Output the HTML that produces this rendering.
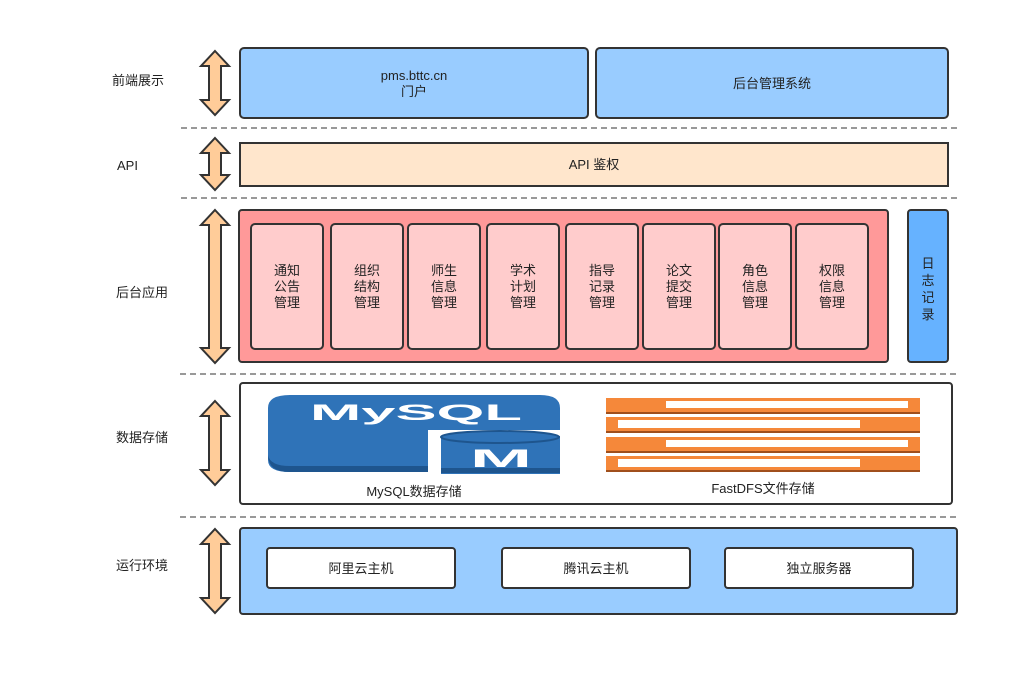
<!DOCTYPE html>
<html><head><meta charset="utf-8"><style>
body{margin:0;background:#fff}
svg{display:block}
text{font-family:"Liberation Sans","Noto Sans CJK SC",sans-serif;font-size:13px;fill:#222}
</style></head><body>
<svg width="1022" height="677" viewBox="0 0 1022 677">
<g fill="#ffcc99" stroke="#333" stroke-width="2" stroke-linejoin="miter">
<path d="M215,51 L229,66 L221,66 L221,100 L229,100 L215,115 L201,100 L209,100 L209,66 L201,66 Z"/>
<path d="M215,138 L229,153 L221,153 L221,175 L229,175 L215,190 L201,175 L209,175 L209,153 L201,153 Z"/>
<path d="M215,210 L229,225 L221,225 L221,348 L229,348 L215,363 L201,348 L209,348 L209,225 L201,225 Z"/>
<path d="M215,401 L229,416 L221,416 L221,470 L229,470 L215,485 L201,470 L209,470 L209,416 L201,416 Z"/>
<path d="M215,529 L229,544 L221,544 L221,598 L229,598 L215,613 L201,598 L209,598 L209,544 L201,544 Z"/>
</g>
<g stroke="#999" stroke-width="2" stroke-dasharray="6,4">
<line x1="181" y1="128" x2="958" y2="128"/>
<line x1="181" y1="198" x2="958" y2="198"/>
<line x1="180" y1="374" x2="958" y2="374"/>
<line x1="180" y1="517" x2="958" y2="517"/>
</g>
<text x="112" y="85">前端展示</text>
<text x="117" y="170">API</text>
<text x="116" y="297">后台应用</text>
<text x="116" y="442">数据存储</text>
<text x="116" y="570">运行环境</text>
<g stroke="#333" stroke-width="2">
<rect x="240" y="48" width="348" height="70" rx="4" fill="#99ccff"/>
<rect x="596" y="48" width="352" height="70" rx="4" fill="#99ccff"/>
<rect x="240" y="143" width="708" height="43" fill="#ffe6cc"/>
<rect x="239" y="210" width="649" height="152" rx="3" fill="#ff9999"/>
<rect x="908" y="210" width="40" height="152" rx="3" fill="#66b2ff"/>
<rect x="240" y="383" width="712" height="121" rx="3" fill="#fff"/>
<rect x="240" y="528" width="717" height="86" rx="3" fill="#99ccff"/>
<g fill="#fff">
<rect x="267" y="548" width="188" height="40" rx="3"/>
<rect x="502" y="548" width="188" height="40" rx="3"/>
<rect x="725" y="548" width="188" height="40" rx="3"/>
</g>
<g fill="#ffcccc">
<rect x="251" y="224" width="72" height="125" rx="4"/>
<rect x="331" y="224" width="72" height="125" rx="4"/>
<rect x="408" y="224" width="72" height="125" rx="4"/>
<rect x="487" y="224" width="72" height="125" rx="4"/>
<rect x="566" y="224" width="72" height="125" rx="4"/>
<rect x="643" y="224" width="72" height="125" rx="4"/>
<rect x="719" y="224" width="72" height="125" rx="4"/>
<rect x="796" y="224" width="72" height="125" rx="4"/>
</g>
</g>
<g text-anchor="middle">
<text x="414" y="80">pms.bttc.cn</text>
<text x="414" y="96">门户</text>
<text x="772" y="88">后台管理系统</text>
<text x="594" y="169">API 鉴权</text>
<text x="361" y="573">阿里云主机</text>
<text x="596" y="573">腾讯云主机</text>
<text x="819" y="573">独立服务器</text>
<text x="414" y="496">MySQL数据存储</text>
<text x="763" y="493">FastDFS文件存储</text>
<g>
<text x="287" y="275">通知</text><text x="287" y="291">公告</text><text x="287" y="307">管理</text>
<text x="367" y="275">组织</text><text x="367" y="291">结构</text><text x="367" y="307">管理</text>
<text x="444" y="275">师生</text><text x="444" y="291">信息</text><text x="444" y="307">管理</text>
<text x="523" y="275">学术</text><text x="523" y="291">计划</text><text x="523" y="307">管理</text>
<text x="602" y="275">指导</text><text x="602" y="291">记录</text><text x="602" y="307">管理</text>
<text x="679" y="275">论文</text><text x="679" y="291">提交</text><text x="679" y="307">管理</text>
<text x="755" y="275">角色</text><text x="755" y="291">信息</text><text x="755" y="307">管理</text>
<text x="832" y="275">权限</text><text x="832" y="291">信息</text><text x="832" y="307">管理</text>
<text x="928" y="268">日</text><text x="928" y="285">志</text><text x="928" y="302">记</text><text x="928" y="319">录</text>
</g>
</g>
<!-- MySQL logo -->
<path d="M290,395 L540,395 Q560,395 560,408 L560,430 L428,430 L428,472 L290,472 Q268,472 268,460 L268,408 Q268,395 290,395 Z" fill="#2f73b8"/>
<path d="M268,455 Q268,472 290,472 L428,472 L428,466 L290,466 Q270,466 268,455 Z" fill="#1e558e"/>
<rect x="441" y="436" width="119" height="38" fill="#2f73b8"/>
<ellipse cx="500" cy="437" rx="59" ry="6" fill="#2f73b8" stroke="#1e558e" stroke-width="2"/>
<rect x="441" y="468" width="119" height="5" fill="#1e558e"/>
<text x="310" y="420" textLength="212" lengthAdjust="spacingAndGlyphs" style="font-size:22px;font-weight:bold;fill:#fff">MySQL</text>
<text x="470" y="467" textLength="62" lengthAdjust="spacingAndGlyphs" style="font-size:25px;font-weight:bold;fill:#fff">M</text>
<!-- FastDFS -->
<g fill="#f5883a">
<rect x="606" y="398" width="314" height="16"/><rect x="606" y="417" width="314" height="16"/>
<rect x="606" y="437" width="314" height="16"/><rect x="606" y="456" width="314" height="16"/>
</g>
<g fill="#a04f1c">
<rect x="606" y="412" width="314" height="2"/><rect x="606" y="431" width="314" height="2"/>
<rect x="606" y="451" width="314" height="2"/><rect x="606" y="470" width="314" height="2"/>
</g>
<g fill="#fff">
<rect x="666" y="401" width="242" height="7"/><rect x="618" y="420" width="242" height="8"/>
<rect x="666" y="440" width="242" height="7"/><rect x="618" y="459" width="242" height="8"/>
</g>
</svg>
</body></html>
